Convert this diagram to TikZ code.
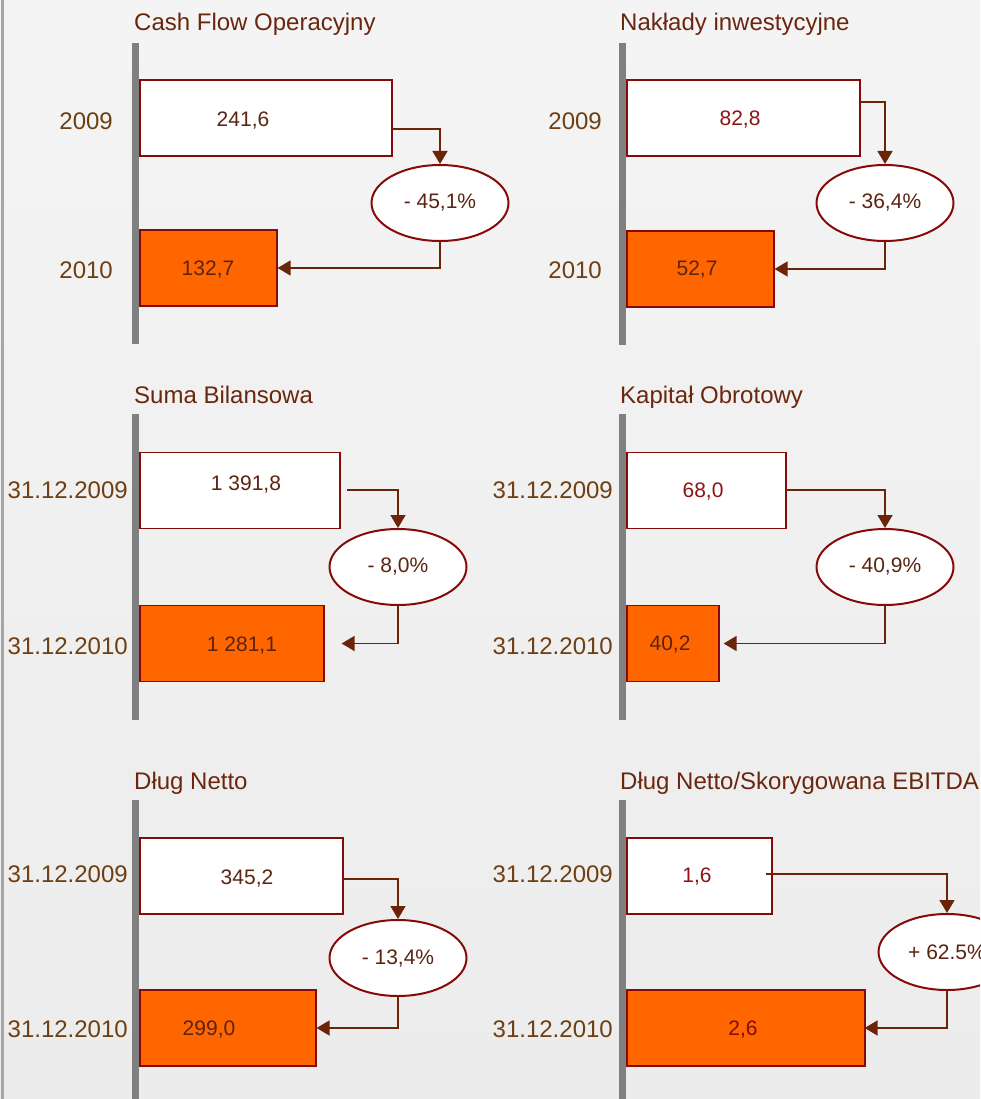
\documentclass[tikz,border=0pt]{standalone}
\usepackage{fontspec}
\setmainfont{Liberation Sans}
\usetikzlibrary{arrows.meta, shapes.geometric}
\definecolor{bordo}{HTML}{870A0A}
\definecolor{brazowy}{HTML}{6B2408}
\definecolor{tytulowy}{HTML}{6B260E}
\definecolor{rokowy}{HTML}{6E3F12}
\definecolor{ciemny}{HTML}{5A2410}
\definecolor{czerwony}{HTML}{8C1414}
\definecolor{pomarancz}{HTML}{FF6600}
\definecolor{szary}{HTML}{808080}
\definecolor{tlogora}{HTML}{F4F4F4}
\definecolor{tlodol}{HTML}{ECECEC}
\tikzset{
  tytul/.style={font=\fontsize{24}{28}\selectfont, text=tytulowy, anchor=base west, inner sep=0pt},
  rok/.style={font=\fontsize{24}{28}\selectfont, text=rokowy, anchor=east, inner sep=0pt},
  wartosc/.style={font=\fontsize{21}{25}\selectfont, inner sep=0pt},
  os/.style={draw=szary, line width=7pt},
  stary/.style={draw=bordo, fill=white, line width=1.6pt, anchor=west, minimum height=76pt, inner sep=0pt},
  nowy/.style={stary, fill=pomarancz},
  zmiana/.style={ellipse, draw=bordo, fill=white, line width=2pt, minimum width=137pt, minimum height=76pt,
                 inner sep=0pt, text=ciemny, font=\fontsize{21}{25}\selectfont},
  strzalka/.style={-{Triangle[width=15pt,length=13pt]}, draw=brazowy, line width=1.6pt},
}
\begin{document}
\begin{tikzpicture}[x=1pt, y=-1pt]
  \shade[top color=tlogora, bottom color=tlodol] (0,0) rectangle (980,1099);
  \useasboundingbox (0,0) rectangle (980,1099);
  \clip (0,0) rectangle (980,1099);
  \draw[draw=szary!70, line width=3pt] (2.5,0) -- (2.5,1099);
  % osie
  \foreach \x/\a/\b in {135.5/43/344, 622.5/43/345, 135.5/414/720, 622.5/414/720, 135.5/800/1099, 622.5/800/1099}
    \draw[os] (\x,\a) -- (\x,\b);
  % tytuly
  \foreach \x/\y/\t [count=\i] in {134/31/Cash Flow Operacyjny, 620/31/Nakłady inwestycyjne, 134/403/Suma Bilansowa,
      620/403/Kapitał Obrotowy, 134/789/Dług Netto, 620/789/{Dług Netto/Skorygowana EBITDA}}
    \node[tytul] (t\i) at (\x,\y) {\t};
  % slupki
  \foreach \x/\yg/\szg/\yd/\szd [count=\i] in {139/118/252/268/137, 626/118/233/269/147, 139/490.5/200/643.5/184,
      626/490.5/159/643.5/92, 139/876/203/1028/176, 626/876/145/1028/238} {
    \node[stary, minimum width=\szg pt] (g\i) at (\x,\yg) {};
    \node[nowy, minimum width=\szd pt] (d\i) at (\x,\yd) {};
  }
  % lata
  \foreach \x/\y/\r [count=\i] in {113/121/2009, 113/270/2010, 602/121/2009, 602/270/2010,
      128/490/31.12.2009, 128/646/31.12.2010, 613/490/31.12.2009, 613/646/31.12.2010,
      128/874/31.12.2009, 128/1029/31.12.2010, 613/874/31.12.2009, 613/1029/31.12.2010}
    \node[rok] (r\i) at (\x,\y) {\r};
  % wartosci
  \foreach \x/\y/\v/\c [count=\i] in {243/121/{241,6}/ciemny, 208/270/{132,7}/ciemny, 740/120/{82,8}/czerwony,
      697/270/{52,7}/ciemny, 246/485/{1 391,8}/ciemny, 242/646/{1 281,1}/ciemny, 703/492/{68,0}/czerwony,
      670/645/{40,2}/ciemny, 247/879/{345,2}/ciemny, 209/1029/{299,0}/ciemny, 697/877/{1,6}/czerwony,
      743/1029/{2,6}/bordo}
    \node[wartosc, text=\c] (w\i) at (\x,\y) {\v};
  % zmiany
  \foreach \x/\y/\p [count=\i] in {440/203/{- 45,1\%}, 885/203/{- 36,4\%}, 398/567/{- 8,0\%},
      885/567/{- 40,9\%}, 398/958/{- 13,4\%}, 947/952/{+ 62.5\%}}
    \node[zmiana] (z\i) at (\x,\y) {\p};
  % strzalki
  \foreach \sx/\sy/\k [count=\i] in {391/129/0, 859/102/0, 347/490/17, 785/490/4, 342/879/0, 766/874/-1} {
    \coordinate (s\i) at (\sx,\sy);
    \draw[strzalka] (s\i) -| (z\i.north);
    \draw[strzalka] (z\i.south) |- ([xshift=\k pt]d\i.east);
  }
\end{tikzpicture}
\end{document}
